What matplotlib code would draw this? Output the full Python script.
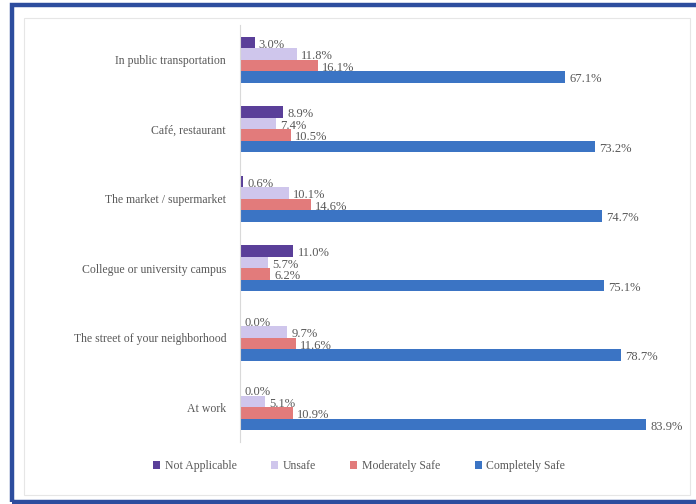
import matplotlib.pyplot as plt
from matplotlib.patches import Rectangle
import numpy as np

places = ["In public transportation", "Café, restaurant", "The market / supermarket",
          "Collegue or university campus", "The street of your neighborhood", "At work"]
series = ["Not Applicable", "Unsafe", "Moderately Safe", "Completely Safe"]
not_applicable = [3.0, 8.9, 0.6, 11.0, 0.0, 0.0]
unsafe = [11.8, 7.4, 10.1, 5.7, 9.7, 5.1]
moderately_safe = [16.1, 10.5, 14.6, 6.2, 11.6, 10.9]
completely_safe = [67.1, 73.2, 74.7, 75.1, 78.7, 83.9]
colors = ["#5a3f99", "#cfc6ec", "#e27b7b", "#3b74c4"]

values = [not_applicable, unsafe, moderately_safe, completely_safe]

fig = plt.figure(figsize=(6.96, 5.04), dpi=100)
ax = fig.add_axes([240 / 696, 0.123, 436 / 696, 0.827])

y = np.arange(len(places))
h = 0.165
for k, (name, vals, col) in enumerate(zip(series, values, colors)):
    pos = y + (k - 1.5) * h
    ax.barh(pos, vals, height=h, color=col, label=name)
    for p, v in zip(pos, vals):
        ax.annotate(f"{v:.1f}%", (v, p), xytext=(3, -1.5), textcoords="offset points",
                    ha="left", va="center", fontsize=9, color="#595959",
                    family="Liberation Serif")

ax.set_xlim(0, 90)
ax.set_ylim(5.5, -0.5)
ax.set_yticks(y)
ax.set_yticklabels(places, fontsize=8.5, color="#595959", family="Liberation Serif")
ax.tick_params(axis="y", length=0, pad=10)
ax.set_xticks([])
for s in ["top", "right", "bottom"]:
    ax.spines[s].set_visible(False)
ax.spines["left"].set_color("#d9d9d9")

fig.legend(loc="center", bbox_to_anchor=(0.516, 0.075), ncol=4, frameon=False,
           handlelength=0.6, handleheight=0.6, columnspacing=2.9, handletextpad=0.4,
           prop={"family": "Liberation Serif", "size": 8.5}, labelcolor="#595959")

# outer blue frame and faint inner chart border
fig.patches.append(Rectangle((24 / 696, 9 / 504), 666 / 696, 477 / 504, transform=fig.transFigure,
                             fill=False, edgecolor="#e6e6e6", linewidth=0.8))
fig.patches.append(Rectangle((12 / 696, 2.5 / 504), 1.0, 497 / 504, transform=fig.transFigure,
                             fill=False, edgecolor="#2d4d9e", linewidth=3.2))

plt.savefig("out.png", dpi=100)
